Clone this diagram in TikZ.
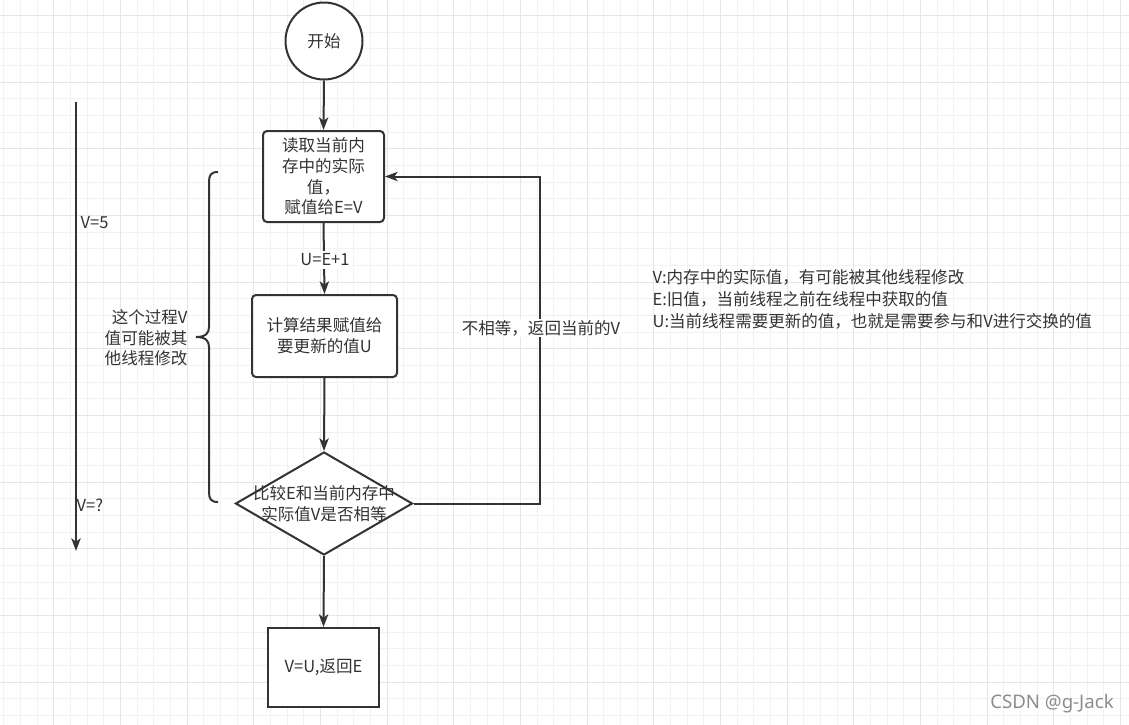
\documentclass[tikz,border=0pt]{standalone}
\usepackage{fontspec}
\setmainfont{Noto Sans CJK SC}
\newfontfamily\wmfont{Noto Sans}
\usetikzlibrary{arrows.meta, shapes.geometric}
\definecolor{ink}{HTML}{333333}
\definecolor{gridminor}{HTML}{F2F2F2}
\definecolor{gridmajor}{HTML}{E6E6E6}
\tikzset{
  base/.style={draw=ink, line width=1.5pt, text=ink, font=\fontsize{12.4}{15.5}\selectfont, align=center, inner sep=0pt},
  roundbox/.style={base, rectangle, rounded corners=3pt},
  sharpbox/.style={base, rectangle},
  startcirc/.style={base, circle, minimum size=57.75pt},
  decision/.style={base, diamond, minimum width=132.75pt, minimum height=77.25pt},
  txt/.style={text=ink, font=\fontsize{12.4}{15.5}\selectfont, inner sep=1pt},
  conn/.style={draw=ink, line width=1.5pt, -{Stealth[length=9.5pt,width=7pt,inset=2.5pt]}},
  plainline/.style={draw=ink, line width=1.5pt},
}
\begin{document}
\begin{tikzpicture}[x=0.75pt, y=-0.75pt]
\useasboundingbox (0,0) rectangle (1129,725);
\fill[white] (0,0) rectangle (1129,725);
% grid
\foreach \i in {0,...,67} {
  \draw[gridminor, line width=0.75pt] ({3.7+16.667*\i},0) -- ({3.7+16.667*\i},725);
}
\foreach \i in {-1,...,43} {
  \draw[gridminor, line width=0.75pt] (0,{15.5+16.667*\i}) -- (1129,{15.5+16.667*\i});
}
\foreach \i in {-1,...,16} {
  \draw[gridmajor, line width=0.75pt] ({53.7+66.667*\i},0) -- ({53.7+66.667*\i},725);
}
\foreach \i in {0,...,11} {
  \draw[gridmajor, line width=0.75pt] (0,{15.5+66.667*\i}) -- (1129,{15.5+66.667*\i});
}

% nodes
\node[startcirc, fill=white] (start) at (324,41) {开始};
\node[roundbox, fill=white, minimum width=90.75pt, minimum height=68.25pt] (read) at (323.5,176.5) {读取当前内\\存中的实际\\值，\\赋值给E=V};
\node[roundbox, fill=white, minimum width=108.75pt, minimum height=61.5pt] (calc) at (324.5,336) {计算结果赋值给\\要更新的值U};
\node[decision, fill=white] (cmp) at (324,503.5) {};
\node[txt, align=center] (cmpt) at (324,503.5) {比较E和当前内存中\\实际值V是否相等};
\node[sharpbox, fill=white, minimum width=83.25pt, minimum height=59.25pt] (done) at (323.5,667.5) {V=U,返回E};

% connectors
\draw[conn] (start.south) -- (read.north);
\draw[conn] (read.south) -- (calc.north);
\node[txt, fill=white, inner sep=2pt] (lblu) at (325,260) {U=E+1};
\draw[conn] (calc.south) -- (cmp.north);
\draw[conn] (cmp.south) -- (done.north);
\coordinate (loopa) at (540,503.5);
\coordinate (loopb) at (540,176.5);
\draw[conn] (cmp.east) -- (loopa) -- (loopb) -- (read.east);
\node[txt, fill=white] (lblloop) at (541,328) {不相等，返回当前的V};

% left timeline
\coordinate (ltop) at (76,102);
\coordinate (lbot) at (76,551);
\draw[conn] (ltop) -- (lbot);
\node[txt, anchor=west] (v5) at (79,223) {V=5};
\node[txt, anchor=west] (vq) at (75,505) {V=?};

% brace
\draw[plainline] (218,172) .. controls (211,172) and (209,175) .. (209,182) -- (209,327)
  .. controls (209,333) and (206,337) .. (196,337)
  .. controls (206,337) and (209,341) .. (209,347) -- (209,492)
  .. controls (209,499) and (211,502) .. (218,502);
\node[txt, align=right, anchor=east] (bracet) at (189,338) {这个过程V\\值可能被其\\他线程修改};

% legend
\node[txt, align=left, anchor=west, font=\fontsize{12.4}{16.5}\selectfont] (legend) at (651,299.5) {V:内存中的实际值，有可能被其他线程修改\\E:旧值，当前线程之前在线程中获取的值\\U:当前线程需要更新的值，也就是需要参与和V进行交换的值};

% watermark
\node[anchor=east, text=black!45, font=\wmfont\fontsize{14}{16}\selectfont, inner sep=0pt] (wm) at (1114,704) {CSDN @g-Jack};
\end{tikzpicture}
\end{document}
